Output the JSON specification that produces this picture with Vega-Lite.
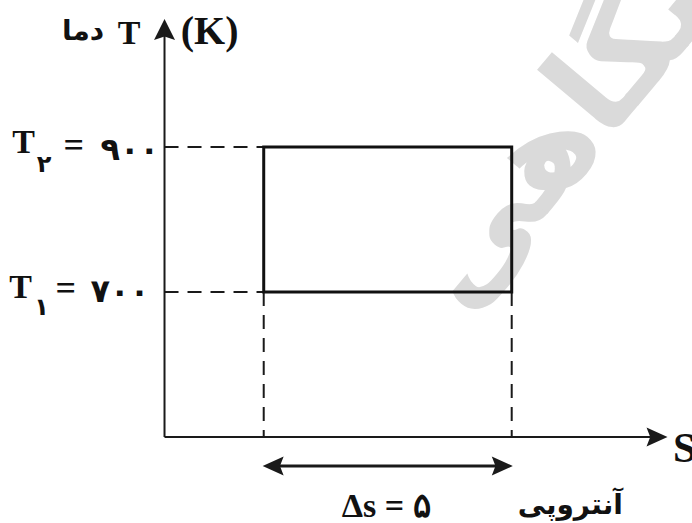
{
  "$schema": "https://vega.github.io/schema/vega-lite/v6.json",
  "width": 692,
  "height": 523,
  "padding": 0,
  "autosize": {"type": "none"},
  "background": "white",
  "config": {"view": {"stroke": null}},
  "datasets": {
    "watermark": [{"s": 6.0, "T": 668, "label": "دانشگاهی"}],
    "axes": [
      {"s": 0, "T": 500, "s2": 9.8, "T2": 500},
      {"s": 0, "T": 500, "s2": 0, "T2": 1055}
    ],
    "guides": [
      {"s": 0, "T": 900, "s2": 2, "T2": 900},
      {"s": 0, "T": 700, "s2": 2, "T2": 700},
      {"s": 2, "T": 700, "s2": 2, "T2": 500},
      {"s": 7, "T": 700, "s2": 7, "T2": 500}
    ],
    "cycle": [{"s": 2, "s2": 7, "T": 700, "T2": 900}],
    "span": [{"s": 2.3, "s2": 6.7, "T": 460, "T2": 460}],
    "heads": [
      {"s": 0, "T": 1062, "dir": "up"},
      {"s": 9.93, "T": 500, "dir": "right"},
      {"s": 2.19, "T": 460, "dir": "left"},
      {"s": 6.81, "T": 460, "dir": "right"}
    ],
    "topT": [{"s": -0.714, "T": 1042, "label": "T"}],
    "topK": [{"s": 0.91, "T": 1042, "label": "(K)"}],
    "tLabels": [
      {"s": -2.84, "T": 891.7, "label": "T"},
      {"s": -2.9, "T": 691.7, "label": "T"}
    ],
    "subs": [
      {"s": -2.43, "T": 866, "label": "۲"},
      {"s": -2.48, "T": 668, "label": "۱"}
    ],
    "eqs": [
      {"s": -1.83, "T": 886, "label": "="},
      {"s": -1.99, "T": 689, "label": "="}
    ],
    "nums": [
      {"s": -0.7, "T": 882, "label": "۹۰۰"},
      {"s": -0.9, "T": 686.2, "label": "۷۰۰"}
    ],
    "sLabel": [{"s": 10.25, "T": 465.5, "label": "S"}],
    "dsLabel": [{"s": 4.47, "T": 390, "label": "Δs = ۵"}],
    "faLabels": [
      {"s": -1.643, "T": 1047.6, "label": "دما"},
      {"s": 8.18, "T": 393.8, "label": "آنتروپی"}
    ]
  },
  "encoding": {
    "x": {"field": "s", "type": "quantitative", "axis": null, "scale": {"domain": [-3.317, 10.635], "nice": false, "zero": false}},
    "y": {"field": "T", "type": "quantitative", "axis": null, "scale": {"domain": [381.4, 1102.8], "nice": false, "zero": false}}
  },
  "layer": [
    {
      "data": {"name": "watermark"},
      "mark": {"type": "text", "font": "DejaVu Sans", "fontWeight": "bold", "fontSize": 132, "angle": -50, "align": "left", "baseline": "alphabetic", "color": "#dadada"},
      "encoding": {"text": {"field": "label"}}
    },
    {
      "data": {"name": "axes"},
      "mark": {"type": "rule", "color": "#1a1a1a", "strokeWidth": 2},
      "encoding": {"x2": {"field": "s2"}, "y2": {"field": "T2"}}
    },
    {
      "data": {"name": "guides"},
      "mark": {"type": "rule", "color": "#1a1a1a", "strokeWidth": 2, "strokeDash": [14, 9]},
      "encoding": {"x2": {"field": "s2"}, "y2": {"field": "T2"}}
    },
    {
      "data": {"name": "cycle"},
      "mark": {"type": "rect", "fill": "white", "fillOpacity": 0, "stroke": "#111111", "strokeWidth": 3},
      "encoding": {"x2": {"field": "s2"}, "y2": {"field": "T2"}}
    },
    {
      "data": {"name": "span"},
      "mark": {"type": "rule", "color": "#1a1a1a", "strokeWidth": 3},
      "encoding": {"x2": {"field": "s2"}, "y2": {"field": "T2"}}
    },
    {
      "data": {"name": "heads"},
      "mark": {"type": "point", "filled": true, "color": "#1a1a1a", "opacity": 1, "size": 441},
      "encoding": {
        "shape": {"field": "dir", "type": "nominal", "legend": null,
          "scale": {"domain": ["up", "right", "left"],
                    "range": ["M0,-1L1,1L0,0.65L-1,1Z", "M1,0L-1,-0.9L-0.65,0L-1,0.9Z", "M-1,0L1,-0.9L0.65,0L1,0.9Z"]}}
      }
    },
    {
      "data": {"name": "topT"},
      "mark": {"type": "text", "font": "Liberation Serif", "fontWeight": "bold", "fontSize": 34, "align": "center", "baseline": "alphabetic", "color": "#111111"},
      "encoding": {"text": {"field": "label"}}
    },
    {
      "data": {"name": "topK"},
      "mark": {"type": "text", "font": "Liberation Serif", "fontWeight": "bold", "fontSize": 40, "align": "center", "baseline": "alphabetic", "color": "#111111"},
      "encoding": {"text": {"field": "label"}}
    },
    {
      "data": {"name": "tLabels"},
      "mark": {"type": "text", "font": "Liberation Serif", "fontWeight": "bold", "fontSize": 34, "align": "center", "baseline": "alphabetic", "color": "#111111"},
      "encoding": {"text": {"field": "label"}}
    },
    {
      "data": {"name": "subs"},
      "mark": {"type": "text", "font": "DejaVu Sans", "fontWeight": "bold", "fontSize": 24, "align": "center", "baseline": "alphabetic", "color": "#111111"},
      "encoding": {"text": {"field": "label"}}
    },
    {
      "data": {"name": "eqs"},
      "mark": {"type": "text", "font": "Liberation Serif", "fontWeight": "bold", "fontSize": 36, "align": "center", "baseline": "alphabetic", "color": "#111111"},
      "encoding": {"text": {"field": "label"}}
    },
    {
      "data": {"name": "nums"},
      "mark": {"type": "text", "font": "DejaVu Sans", "fontWeight": "bold", "fontSize": 32, "align": "center", "baseline": "alphabetic", "color": "#111111"},
      "encoding": {"text": {"field": "label"}}
    },
    {
      "data": {"name": "sLabel"},
      "mark": {"type": "text", "font": "Liberation Serif", "fontWeight": "bold", "fontSize": 42, "align": "left", "baseline": "alphabetic", "color": "#111111"},
      "encoding": {"text": {"field": "label"}}
    },
    {
      "data": {"name": "dsLabel"},
      "mark": {"type": "text", "font": "Liberation Serif", "fontWeight": "bold", "fontSize": 34, "align": "center", "baseline": "alphabetic", "color": "#111111"},
      "encoding": {"text": {"field": "label"}}
    },
    {
      "data": {"name": "faLabels"},
      "mark": {"type": "text", "font": "DejaVu Sans", "fontWeight": "bold", "fontSize": 28, "align": "center", "baseline": "alphabetic", "color": "#111111"},
      "encoding": {"text": {"field": "label"}}
    }
  ]
}
